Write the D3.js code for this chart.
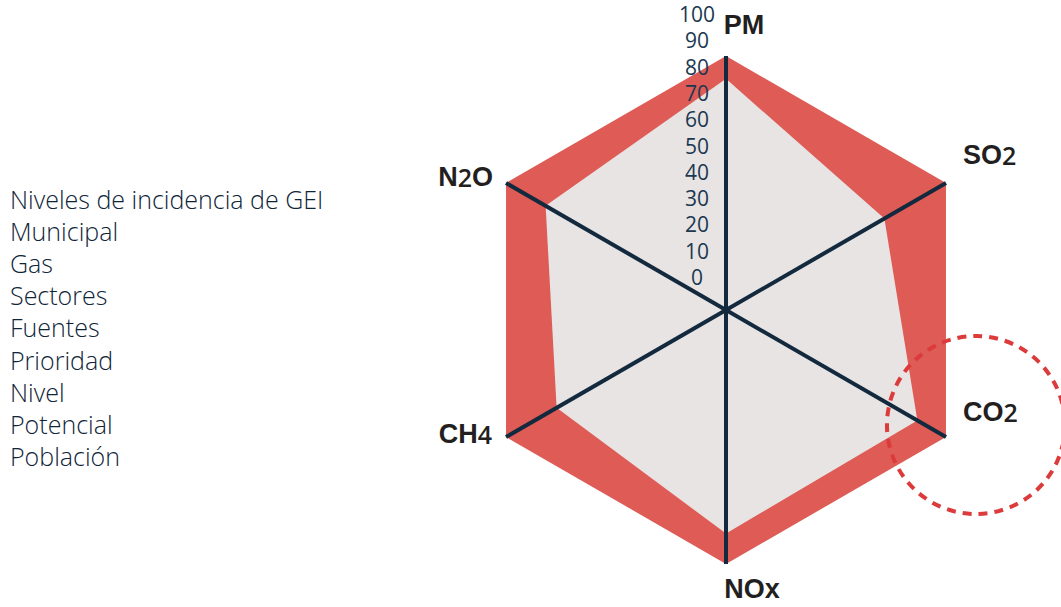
<!DOCTYPE html>
<html>
<head>
<meta charset="utf-8">
<script src="https://cdn.jsdelivr.net/npm/d3@7"></script>
<style>
  body { margin: 0; background: #fff; }
  svg { display: block; }
</style>
</head>
<body>
<div id="chart"></div>
<script>
// Chart data
var axisNames = ['PM', 'SO2', 'CO2', 'NOx', 'CH4', 'N2O'];
var outerValues = [100, 100, 100, 100, 100, 100];
var innerValues = [91, 72, 87, 88, 77, 82];
var tickValues = [0, 10, 20, 30, 40, 50, 60, 70, 80, 90, 100];
var legendLines = ['Niveles de incidencia de GEI', 'Municipal', 'Gas', 'Sectores', 'Fuentes',
  'Prioridad', 'Nivel', 'Potencial', 'Población'];
var highlightAxis = 'CO2';

var width = 1061, height = 607,
  cx = 726, cy = 310, radius = 254;

var svg = d3.select('#chart')
  .append('svg')
  .attr('width', width)
  .attr('height', height);

var r = d3.scaleLinear().domain([0, 100]).range([0, radius]);
var angle = d3.scalePoint().domain(axisNames.concat(['_end'])).range([0, 2 * Math.PI]);

function point(name, v) {
  var a = angle(name);
  return [cx + r(v) * Math.sin(a), cy - r(v) * Math.cos(a)];
}

var line = d3.line().curve(d3.curveLinearClosed);

// Outer red polygon
svg.append('path')
  .attr('d', line(axisNames.map(function (d, i) { return point(d, outerValues[i]); })))
  .attr('fill', '#de5b56');

// Inner grey polygon
svg.append('path')
  .attr('d', line(axisNames.map(function (d, i) { return point(d, innerValues[i]); })))
  .attr('fill', '#e8e4e4');

// Axis spokes
svg.selectAll('line.spoke')
  .data(axisNames)
  .enter()
  .append('line')
  .attr('class', 'spoke')
  .attr('x1', cx)
  .attr('y1', cy)
  .attr('x2', function (d) { return point(d, 100)[0]; })
  .attr('y2', function (d) { return point(d, 100)[1]; })
  .attr('stroke', '#13293d')
  .attr('stroke-width', 4);

// Scale labels (placed beside the PM spoke)
var tickY = d3.scaleLinear().domain([0, 100]).range([277, 14]);
svg.selectAll('text.tick')
  .data(tickValues)
  .enter()
  .append('text')
  .attr('class', 'tick')
  .attr('x', 697)
  .attr('y', function (d) { return tickY(d); })
  .attr('text-anchor', 'middle')
  .attr('dominant-baseline', 'central')
  .attr('font-family', 'Open Sans, sans-serif')
  .attr('font-size', 21)
  .attr('fill', '#1b3850')
  .text(function (d) { return d; });

// Axis labels
var labelPos = {
  PM: [744, 25, 'middle'],
  SO2: [963, 155, 'start'],
  CO2: [963, 412, 'start'],
  NOx: [752, 589, 'middle'],
  CH4: [492, 434, 'end'],
  N2O: [493, 177, 'end']
};
var labels = svg.selectAll('text.axis-label')
  .data(axisNames)
  .enter()
  .append('text')
  .attr('class', 'axis-label')
  .attr('x', function (d) { return labelPos[d][0]; })
  .attr('y', function (d) { return labelPos[d][1]; })
  .attr('text-anchor', function (d) { return labelPos[d][2]; })
  .attr('dominant-baseline', 'central')
  .attr('font-family', 'Liberation Sans, Arial, sans-serif')
  .attr('font-size', 27)
  .attr('font-weight', 'bold')
  .attr('fill', '#231f20');

labels.each(function (d) {
  var t = d3.select(this);
  d.match(/\D+|\d+/g).forEach(function (part) {
    var isNum = /\d/.test(part);
    t.append('tspan')
      .attr('font-family', isNum ? 'Open Sans, sans-serif' : null)
      .attr('font-weight', isNum ? 600 : 'bold')
      .attr('font-size', isNum ? 25 : null)
      .text(part);
  });
});

// Dashed highlight circle around CO2
var hp = point(highlightAxis, 100);
svg.append('circle')
  .attr('cx', hp[0] + 30)
  .attr('cy', hp[1] - 12)
  .attr('r', 89)
  .attr('fill', 'none')
  .attr('stroke', '#dc3b3b')
  .attr('stroke-width', 4)
  .attr('stroke-dasharray', '9,7');

// Legend text on the left
svg.selectAll('text.legend')
  .data(legendLines)
  .enter()
  .append('text')
  .attr('class', 'legend')
  .attr('x', 10)
  .attr('y', function (d, i) { return 199 + i * 32.1; })
  .attr('dominant-baseline', 'central')
  .attr('font-family', 'Open Sans, sans-serif')
  .attr('font-size', 25)
  .attr('font-weight', 300)
  .attr('fill', '#0f2538')
  .text(function (d) { return d; });
</script>
</body>
</html>
